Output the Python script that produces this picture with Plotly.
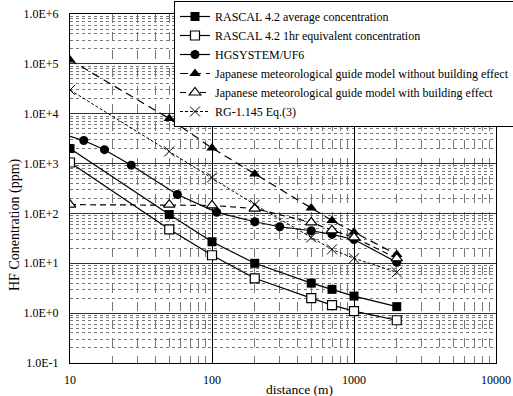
import plotly.graph_objects as go

# ---- data ----
x_rascal = [10, 50, 100, 200, 500, 700, 1000, 2000]
rascal_avg = [2000, 95, 27, 10, 4.0, 3.0, 2.2, 1.35]
rascal_1hr = [1050, 48, 14.5, 5.0, 2.0, 1.45, 1.1, 0.72]

# first HGSYSTEM point (10 m) is drawn as line only, without a marker
x_hg = [10, 12.5, 17.5, 27, 57, 108, 200, 300, 500, 700, 1000, 2000]
hgsystem = [3500, 2900, 1900, 930, 240, 105, 68, 54, 45, 38, 30, 10.5]

x_jp = [10, 50, 100, 200, 500, 700, 1000, 2000]
jp_without = [120000, 8000, 2050, 620, 128, 72, 42, 15]
jp_with = [150, 150, 145, 125, 66, 46, 33, 12.6]

x_rg = [10, 50, 100, 200, 500, 700, 1000, 2000]
rg_1145 = [30000, 1750, 525, 150, 33, 19, 12.6, 6.6]

names = [
    "RASCAL 4.2 average concentration",
    "RASCAL 4.2 1hr equivalent concentration",
    "HGSYSTEM/UF6",
    "Japanese meteorological guide model without building effect",
    "Japanese meteorological guide model with building effect",
    "RG-1.145 Eq.(3)",
]

y_tickvals = [0.1, 1, 10, 100, 1000, 10000, 100000, 1000000]
y_ticktext = ["1.0E-1", "1.0E+0", "1.0E+1", "1.0E+2", "1.0E+3", "1.0E+4", "1.0E+5", "1.0E+6"]
x_tickvals = [10, 100, 1000, 10000]
x_ticktext = ["10", "100", "1000", "10000"]

FONT = "Liberation Serif, Times New Roman, serif"

fig = go.Figure()
fig.add_trace(go.Scatter(x=x_rascal, y=rascal_avg, name=names[0], mode="lines+markers",
                         line=dict(color="black", width=1.2),
                         marker=dict(symbol="square", size=9, color="black")))
fig.add_trace(go.Scatter(x=x_rascal, y=rascal_1hr, name=names[1], mode="lines+markers",
                         line=dict(color="black", width=1.2),
                         marker=dict(symbol="square", size=9, color="white",
                                     line=dict(color="black", width=1.2))))
fig.add_trace(go.Scatter(x=x_hg[:2], y=hgsystem[:2], mode="lines", showlegend=False,
                         hoverinfo="skip", line=dict(color="black", width=1.2)))
fig.add_trace(go.Scatter(x=x_hg[1:], y=hgsystem[1:], name=names[2], mode="lines+markers",
                         line=dict(color="black", width=1.2),
                         marker=dict(symbol="circle", size=9, color="black")))
fig.add_trace(go.Scatter(x=x_jp, y=jp_without, name=names[3], mode="lines+markers",
                         line=dict(color="black", width=1.2, dash="8px,5px"),
                         marker=dict(symbol="triangle-up", size=10, color="black")))
fig.add_trace(go.Scatter(x=x_jp, y=jp_with, name=names[4], mode="lines+markers",
                         line=dict(color="black", width=1.2, dash="6px,4px"),
                         marker=dict(symbol="triangle-up", size=10, color="white",
                                     line=dict(color="black", width=1.2))))
fig.add_trace(go.Scatter(x=x_rg, y=rg_1145, name=names[5], mode="lines+markers",
                         line=dict(color="black", width=1, dash="3px,2px"),
                         marker=dict(symbol="x-thin", size=10, color="black",
                                     line=dict(color="black", width=1))))

fig.update_layout(
    width=513, height=396,
    margin=dict(l=70, r=17, t=14, b=33, autoexpand=False),
    paper_bgcolor="white", plot_bgcolor="white",
    font=dict(family=FONT, size=12, color="black"),
    showlegend=True,
    legend=dict(x=(174 - 70) / 426, y=1 + 13 / 349, xanchor="left", yanchor="top",
                bgcolor="white", bordercolor="black", borderwidth=1,
                font=dict(family=FONT, size=12), itemwidth=30,
                tracegroupgap=0),
    xaxis=dict(type="log", range=[1, 4], tickvals=x_tickvals, ticktext=x_ticktext,
               showline=True, mirror=True, linecolor="black", linewidth=1,
               showgrid=True, gridcolor="black", gridwidth=1,
               ticks="outside", ticklen=6, tickcolor="rgba(0,0,0,0)",
               zeroline=False, automargin=False,
               minor=dict(dtick="D1", showgrid=True, gridcolor="#777777",
                          griddash="dash", gridwidth=0.8),
               tickfont=dict(family=FONT, size=12)),
    yaxis=dict(type="log", range=[-1, 6], tickvals=y_tickvals, ticktext=y_ticktext,
               showline=True, mirror=True, linecolor="black", linewidth=1,
               showgrid=True, gridcolor="#333333", gridwidth=1,
               ticks="outside", ticklen=8, tickcolor="rgba(0,0,0,0)",
               zeroline=False, automargin=False,
               minor=dict(dtick="D1", showgrid=True, gridcolor="#777777",
                          griddash="dot", gridwidth=0.8),
               tickfont=dict(family=FONT, size=12)),
    annotations=[
        dict(text="distance (m)", xref="paper", yref="paper",
             x=(299 - 70) / 426, y=-(389 - 363) / 349, xanchor="center", yanchor="middle",
             showarrow=False, font=dict(family=FONT, size=13.5)),
        dict(text="HF Conentration (ppm)", xref="paper", yref="paper",
             x=-(70 - 15) / 426, y=(363 - 225) / 349, xanchor="center", yanchor="middle",
             textangle=-90, showarrow=False, font=dict(family=FONT, size=14)),
    ],
)

fig.write_html("out.html")
